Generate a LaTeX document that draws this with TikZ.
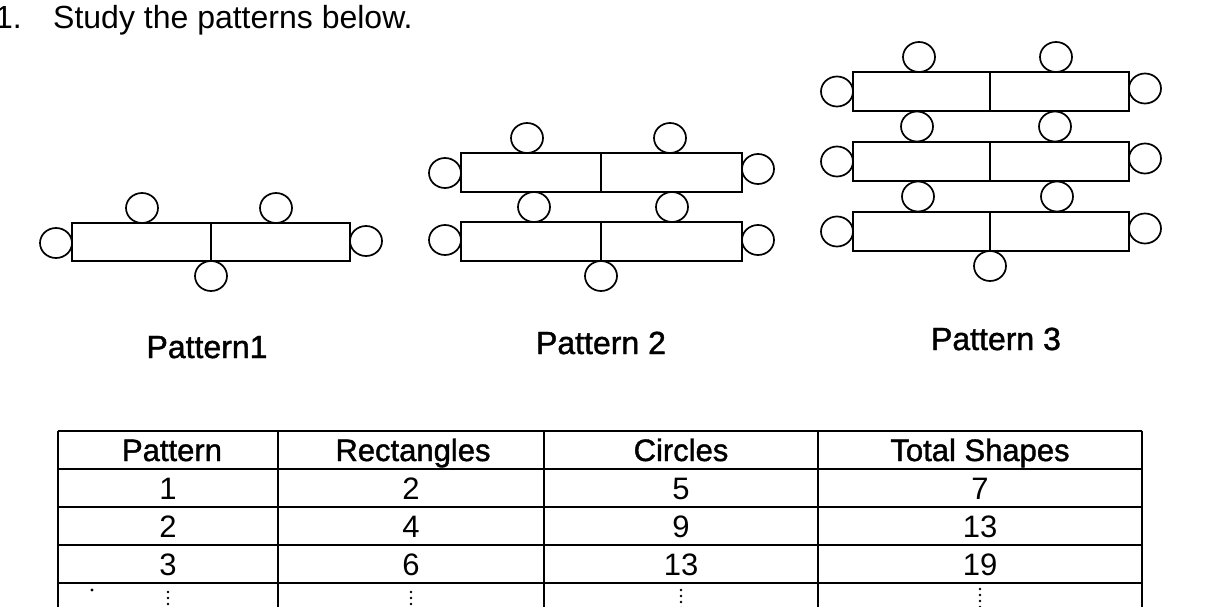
\documentclass[tikz,border=0pt]{standalone}
\usepackage{fontspec}
\setmainfont{Liberation Sans}
\newfontfamily\heavyish[FakeBold=1.3]{Liberation Sans}
\newcommand\ringat[1]{\draw[ringline] #1 ellipse [x radius=16pt, y radius=15pt];}
\newcommand\vdotsat[1]{\foreach \dy in {0,6,12,18}{\fill #1 ++(0,\dy) circle [radius=1.3pt];}}
\begin{document}
\begin{tikzpicture}[x=1pt,y=-1pt,
  barline/.style={line width=1.8pt},
  ringline/.style={line width=1.7pt},
  gridline/.style={line width=1.5pt},
  lbl/.style={font=\fontsize{32}{38}\selectfont, inner sep=0pt, anchor=base},
  plbl/.style={font=\heavyish\fontsize{32}{38}\selectfont, inner sep=0pt, anchor=base},
  cell/.style={font=\fontsize{31}{36}\selectfont, inner sep=0pt, anchor=base},
  hcell/.style={font=\heavyish\fontsize{31}{36}\selectfont, inner sep=0pt, anchor=base}]
\useasboundingbox (0,0) rectangle (1215,607);

% title
\node[lbl, anchor=base west] (num) at (-5,29) {1.};
\node[lbl, anchor=base west] (title) at (53,29) {Study the patterns below.};

% ---------- Pattern 1
\draw[barline] (72,223) rectangle (350,261);
\draw[barline] (211,223) -- (211,261);
\ringat{(142,208)} \ringat{(276,208)}
\ringat{(56,243)} \ringat{(366,241)}
\ringat{(211,276)}

% ---------- Pattern 2
\draw[barline] (461,153) rectangle (742,192);
\draw[barline] (601,153) -- (601,192);
\draw[barline] (461,222) rectangle (742,261);
\draw[barline] (601,222) -- (601,261);
\ringat{(527,138)} \ringat{(670,138)}
\ringat{(534,207)} \ringat{(672,207)}
\ringat{(445,173)} \ringat{(445,240)}
\ringat{(758,169)} \ringat{(758,240)}
\ringat{(601,276)}

% ---------- Pattern 3
\foreach \t in {72,142,212}{
  \draw[barline] (853,\t) rectangle (1129,\t+39);
  \draw[barline] (990,\t) -- (990,\t+39);
  \ringat{(837,\t+19.5)} \ringat{(1145,\t+16.5)}
}
\ringat{(919,57)} \ringat{(1056,57)}
\ringat{(917,126.5)} \ringat{(1055,126.5)}
\ringat{(918,196.5)} \ringat{(1057,196.5)}
\ringat{(990,266)}

% labels
\node[plbl] (p1) at (207,358) {Pattern1};
\node[plbl] (p2) at (601,354) {Pattern 2};
\node[plbl] (p3) at (996,350) {Pattern 3};

% ---------- table
\foreach \x in {58,278,544,818,1142}{\draw[gridline] (\x,431) -- (\x,612);}
\foreach \y in {431,469,507,545,583}{\draw[gridline] (58,\y) -- (1142,\y);}

\node[hcell] (h1) at (172,461) {Pattern};
\node[hcell] (h2) at (413,461) {Rectangles};
\node[hcell] (h3) at (681,461) {Circles};
\node[hcell] (h4) at (980,461) {Total Shapes};

\node[cell] (a1) at (168,499) {1};
\node[cell] (b1) at (411,499) {2};
\node[cell] (c1) at (681,499) {5};
\node[cell] (d1) at (980,499) {7};

\node[cell] (a2) at (168,537) {2};
\node[cell] (b2) at (411,537) {4};
\node[cell] (c2) at (681,537) {9};
\node[cell] (d2) at (980,537) {13};

\node[cell] (a3) at (168,575) {3};
\node[cell] (b3) at (411,575) {6};
\node[cell] (c3) at (681,575) {13};
\node[cell] (d3) at (980,575) {19};

\vdotsat{(168,592)} \vdotsat{(411,592)} \vdotsat{(681,590)} \vdotsat{(980,589)}
\fill (92,590) circle [radius=1.6pt];
\end{tikzpicture}
\end{document}
